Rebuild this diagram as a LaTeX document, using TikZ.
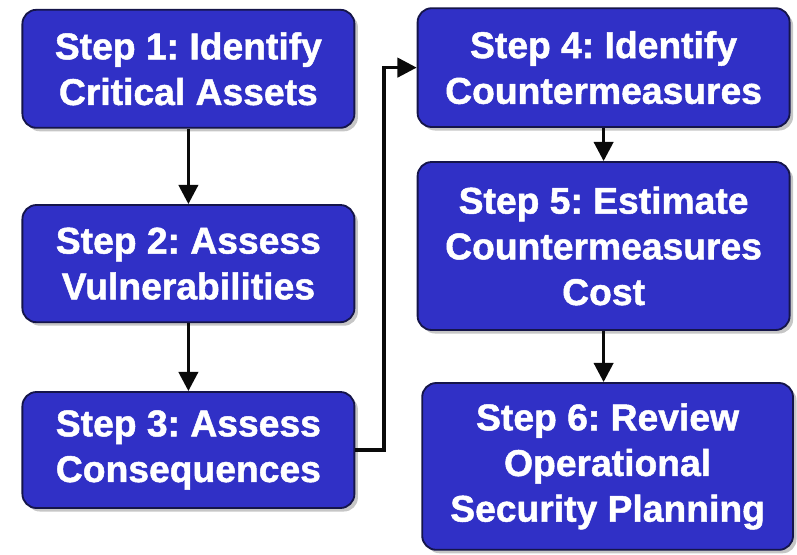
\documentclass[tikz,border=0pt]{standalone}
\usepackage{fontspec}
\setmainfont[BoldFeatures={FakeBold=1.3}]{Liberation Sans}
\usepackage{tikz}
\usetikzlibrary{arrows.meta, positioning, calc, shadows}
\definecolor{stepBlue}{HTML}{3030C6}
\definecolor{stepEdge}{HTML}{15154A}
\definecolor{arrowDark}{HTML}{0A0A0A}
\tikzset{
  arrowK/.style={-{Triangle[length=4.8mm, width=4.8mm]}, arrowDark, line width=2.5pt},
  boxStep/.style={rectangle, rounded corners=10pt, draw=stepEdge, line width=1.3pt,
                  fill=stepBlue, text=white, align=center, inner sep=0pt,
                  font=\bfseries\fontsize{26.5}{32.5}\selectfont,
                  drop shadow={shadow xshift=2.5pt, shadow yshift=-2.5pt, opacity=0.45}},
}
\frenchspacing
\begin{document}
\begin{tikzpicture}
    \useasboundingbox (0,0) rectangle (19.925,-13.85);

    % columna izquierda
    \node[boxStep, minimum width=8.3cm, minimum height=2.95cm] (step1) at (4.71, -1.72)
      {Step 1: Identify\\Critical Assets};
    \node[boxStep, minimum width=8.3cm, minimum height=2.93cm] (step2) at (4.71, -6.59)
      {Step 2: Assess\\Vulnerabilities};
    \node[boxStep, minimum width=8.3cm, minimum height=2.9cm] (step3) at (4.71, -11.25)
      {Step 3: Assess\\Consequences};

    % columna derecha
    \node[boxStep, minimum width=9.3cm, minimum height=2.97cm] (step4) at (15.09, -1.69)
      {Step 4: Identify\\Countermeasures};
    \node[boxStep, minimum width=9.3cm, minimum height=4.2cm] (step5) at (15.09, -6.15)
      {Step 5: Estimate\\Countermeasures\\Cost};
    \node[boxStep, minimum width=9.27cm, minimum height=4.17cm] (step6) at (15.19, -11.66)
      {Step 6: Review\\Operational\\Security Planning};

    % flechas
    \draw[arrowK] (step1.south) -- (step2.north);
    \draw[arrowK] (step2.south) -- (step3.north);
    \draw[arrowK] (step3.east) -- ++(0.72,0) |- (step4.west);
    \draw[arrowK] (step4.south) -- (step5.north);
    \draw[arrowK] (step5.south) -- (step5.south |- step6.north);
\end{tikzpicture}
\end{document}
